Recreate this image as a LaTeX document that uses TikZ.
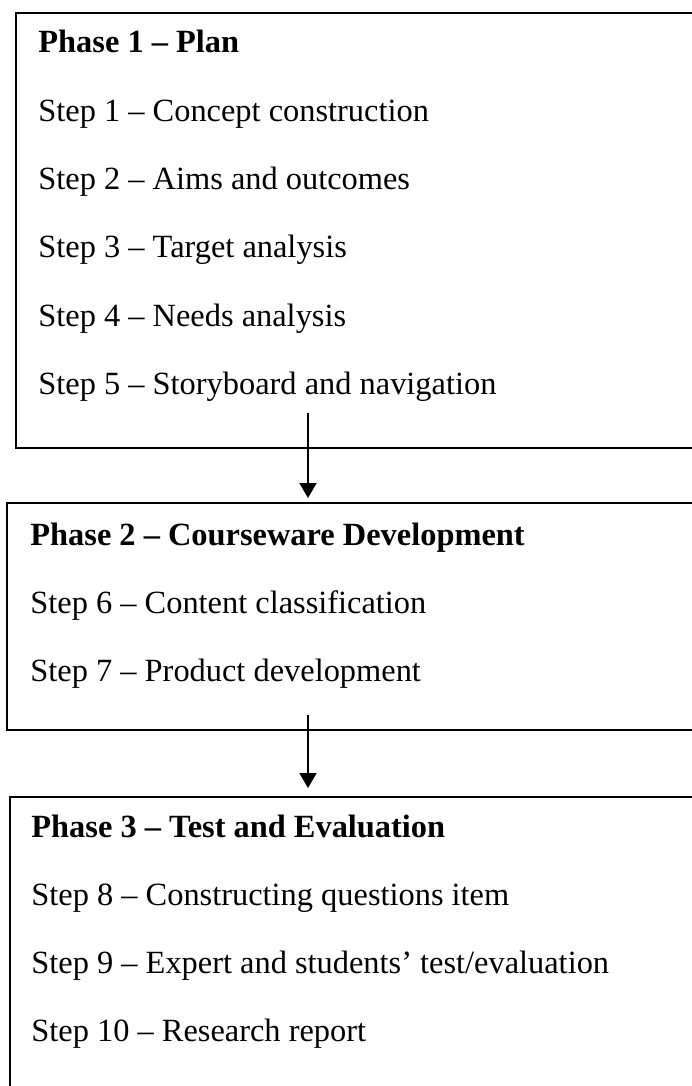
\documentclass[tikz,border=0pt]{standalone}
\usepackage{fontspec}
\setmainfont{Liberation Serif}
\usepackage{tikz}
\usetikzlibrary{calc}
\usetikzlibrary{arrows.meta}
\tikzstyle{every node}=[font=\fontsize{16.2}{19}\selectfont, inner sep=0pt, anchor=base west]
\tikzstyle{phase}=[font=\fontsize{16.2}{19}\selectfont\bfseries]
\tikzstyle{frame}=[line width=1pt]
\tikzstyle{flow}=[line width=1pt, -{Triangle[width=8.5pt,length=7.5pt]}]

\begin{document}
\begin{tikzpicture}[x=0.5pt, y=-0.5pt]
            \def\dstep{68.3}
            \def\arrx{308}

            \useasboundingbox (0,0) rectangle (691,1086);

            % boxes (they run off the right side)
            \draw [frame] (15.7,13) rectangle (730,448);
            \draw [frame] (7,503) rectangle (730,730);
            \draw [frame] (10,797) rectangle (730,1130);

            % phase 1
            \node [phase] (ph1) at (38,53) {Phase 1 – Plan};
            \node (s1) at (38,53+\dstep) {Step 1 – Concept construction};
            \node (s2) at (38,53+2*\dstep) {Step 2 – Aims and outcomes};
            \node (s3) at (38,53+3*\dstep) {Step 3 – Target analysis};
            \node (s4) at (38,53+4*\dstep) {Step 4 – Needs analysis};
            \node (s5) at (38,53+5*\dstep) {Step 5 – Storyboard and navigation};

            % phase 2
            \node [phase] (ph2) at (30,545) {Phase 2 – Courseware Development};
            \node (s6) at (30,545+\dstep) {Step 6 – Content classification};
            \node (s7) at (30,545+2*\dstep) {Step 7 – Product development};

            % phase 3
            \node [phase] (ph3) at (31,837) {Phase 3 – Test and Evaluation};
            \node (s8) at (31,837+\dstep) {Step 8 – Constructing questions item};
            \node (s9) at (31,837+2*\dstep) {Step 9 – Expert and students' test/evaluation};
            \node (s10) at (31,837+3*\dstep) {Step 10 – Research report};

            \coordinate (A1) at (\arrx,413);
            \coordinate (B1) at (\arrx,498);
            \coordinate (A2) at (\arrx,715);
            \coordinate (B2) at (\arrx,788);

            \draw [flow] (A1) -- (B1);
            \draw [flow] (A2) -- (B2);
        \end{tikzpicture}
\end{document}
